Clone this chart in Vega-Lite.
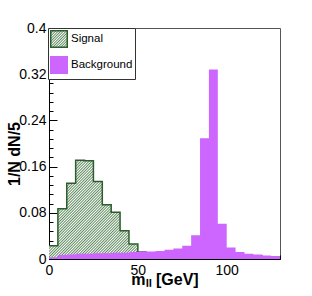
{
  "$schema": "https://vega.github.io/schema/vega-lite/v6.json",
  "width": 231,
  "height": 231,
  "autosize": {"type": "none"},
  "padding": {"left": 49, "top": 28, "right": 32, "bottom": 37},
  "background": "white",
  "config": {
    "view": {"stroke": "#555555", "strokeWidth": 1},
    "font": "Liberation Sans"
  },
  "datasets": {
    "sig": [
      {"m": 0, "v": 0.023},
      {"m": 5, "v": 0.087},
      {"m": 10, "v": 0.131},
      {"m": 15, "v": 0.171},
      {"m": 20, "v": 0.170},
      {"m": 25, "v": 0.134},
      {"m": 30, "v": 0.094},
      {"m": 35, "v": 0.081},
      {"m": 40, "v": 0.049},
      {"m": 45, "v": 0.026},
      {"m": 50, "v": 0.012},
      {"m": 55, "v": 0.012}
    ],
    "bkg": [
      {"m": 0, "v": 0.003},
      {"m": 5, "v": 0.007},
      {"m": 10, "v": 0.008},
      {"m": 15, "v": 0.009},
      {"m": 20, "v": 0.009},
      {"m": 25, "v": 0.010},
      {"m": 30, "v": 0.010},
      {"m": 35, "v": 0.011},
      {"m": 40, "v": 0.011},
      {"m": 45, "v": 0.012},
      {"m": 50, "v": 0.013},
      {"m": 55, "v": 0.013},
      {"m": 60, "v": 0.014},
      {"m": 65, "v": 0.016},
      {"m": 70, "v": 0.018},
      {"m": 75, "v": 0.023},
      {"m": 80, "v": 0.041},
      {"m": 85, "v": 0.209},
      {"m": 90, "v": 0.328},
      {"m": 95, "v": 0.061},
      {"m": 100, "v": 0.020},
      {"m": 105, "v": 0.012},
      {"m": 110, "v": 0.009},
      {"m": 115, "v": 0.008},
      {"m": 120, "v": 0.006},
      {"m": 125, "v": 0.005},
      {"m": 130, "v": 0.005}
    ]
  },
  "encoding": {
    "x": {
      "field": "m",
      "type": "quantitative",
      "scale": {"domain": [0, 130], "nice": false, "zero": false},
      "axis": {
        "title": "mₗₗ [GeV]",
        "values": [0, 10, 20, 30, 40, 50, 60, 70, 80, 90, 100, 110, 120, 130],
        "labelExpr": "datum.value % 50 === 0 ? datum.label : ''",
        "labelFlush": false,
        "labelOverlap": false,
        "tickSize": {"condition": {"test": "datum.value % 50 === 0", "value": -8}, "value": -4},
        "grid": false,
        "domainColor": "black",
        "tickColor": "black",
        "labelFontSize": 14,
        "labelColor": "black",
        "labelPadding": 12.5,
        "titleFontSize": 16,
        "titleFontWeight": "bold",
        "titleColor": "black",
        "titleBaseline": "alphabetic",
        "titleY": 25
      }
    },
    "y": {
      "field": "v",
      "type": "quantitative",
      "scale": {"domain": [0, 0.4], "nice": false},
      "axis": {
        "title": "1/N dN/5",
        "values": [0, 0.016, 0.032, 0.048, 0.064, 0.08, 0.096, 0.112, 0.128, 0.144, 0.16, 0.176, 0.192, 0.208, 0.224, 0.24, 0.256, 0.272, 0.288, 0.304, 0.32, 0.336, 0.352, 0.368, 0.384, 0.4],
        "labelExpr": "round(datum.value*1000) % 80 === 0 ? format(datum.value, '~g') : ''",
        "labelFlush": false,
        "labelOverlap": false,
        "tickSize": {"condition": {"test": "round(datum.value*1000) % 80 === 0", "value": -8}, "value": -4},
        "grid": false,
        "domainColor": "black",
        "tickColor": "black",
        "labelFontSize": 14,
        "labelColor": "black",
        "labelPadding": 11,
        "titleFontSize": 16,
        "titleFontWeight": "bold",
        "titleColor": "black",
        "titleAngle": -90,
        "titleAlign": "center",
        "titleBaseline": "alphabetic",
        "titleX": -30,
        "titleY": 125.5
      }
    }
  },
  "layer": [
    {
      "data": {"name": "sig"},
      "mark": {
        "type": "area",
        "interpolate": "step-after",
        "fill": {
          "gradient": "linear", "x1": 0, "y1": 0, "x2": 1, "y2": 1,
          "stops": [
            {"offset": 0, "color": "#5f8a5f"}, {"offset": 0.007, "color": "#ffffff"},
            {"offset": 0.014, "color": "#5f8a5f"}, {"offset": 0.021, "color": "#ffffff"},
            {"offset": 0.028, "color": "#5f8a5f"}, {"offset": 0.035, "color": "#ffffff"},
            {"offset": 0.042, "color": "#5f8a5f"}, {"offset": 0.049, "color": "#ffffff"},
            {"offset": 0.056, "color": "#5f8a5f"}, {"offset": 0.063, "color": "#ffffff"},
            {"offset": 0.07, "color": "#5f8a5f"}, {"offset": 0.077, "color": "#ffffff"},
            {"offset": 0.084, "color": "#5f8a5f"}, {"offset": 0.091, "color": "#ffffff"},
            {"offset": 0.098, "color": "#5f8a5f"}, {"offset": 0.105, "color": "#ffffff"},
            {"offset": 0.112, "color": "#5f8a5f"}, {"offset": 0.119, "color": "#ffffff"},
            {"offset": 0.126, "color": "#5f8a5f"}, {"offset": 0.133, "color": "#ffffff"},
            {"offset": 0.14, "color": "#5f8a5f"}, {"offset": 0.147, "color": "#ffffff"},
            {"offset": 0.154, "color": "#5f8a5f"}, {"offset": 0.161, "color": "#ffffff"},
            {"offset": 0.168, "color": "#5f8a5f"}, {"offset": 0.175, "color": "#ffffff"},
            {"offset": 0.182, "color": "#5f8a5f"}, {"offset": 0.189, "color": "#ffffff"},
            {"offset": 0.196, "color": "#5f8a5f"}, {"offset": 0.203, "color": "#ffffff"},
            {"offset": 0.21, "color": "#5f8a5f"}, {"offset": 0.217, "color": "#ffffff"},
            {"offset": 0.224, "color": "#5f8a5f"}, {"offset": 0.231, "color": "#ffffff"},
            {"offset": 0.238, "color": "#5f8a5f"}, {"offset": 0.245, "color": "#ffffff"},
            {"offset": 0.252, "color": "#5f8a5f"}, {"offset": 0.259, "color": "#ffffff"},
            {"offset": 0.266, "color": "#5f8a5f"}, {"offset": 0.273, "color": "#ffffff"},
            {"offset": 0.28, "color": "#5f8a5f"}, {"offset": 0.287, "color": "#ffffff"},
            {"offset": 0.294, "color": "#5f8a5f"}, {"offset": 0.301, "color": "#ffffff"},
            {"offset": 0.308, "color": "#5f8a5f"}, {"offset": 0.315, "color": "#ffffff"},
            {"offset": 0.322, "color": "#5f8a5f"}, {"offset": 0.329, "color": "#ffffff"},
            {"offset": 0.336, "color": "#5f8a5f"}, {"offset": 0.343, "color": "#ffffff"},
            {"offset": 0.35, "color": "#5f8a5f"}, {"offset": 0.357, "color": "#ffffff"},
            {"offset": 0.364, "color": "#5f8a5f"}, {"offset": 0.371, "color": "#ffffff"},
            {"offset": 0.378, "color": "#5f8a5f"}, {"offset": 0.385, "color": "#ffffff"},
            {"offset": 0.392, "color": "#5f8a5f"}, {"offset": 0.399, "color": "#ffffff"},
            {"offset": 0.406, "color": "#5f8a5f"}, {"offset": 0.413, "color": "#ffffff"},
            {"offset": 0.42, "color": "#5f8a5f"}, {"offset": 0.427, "color": "#ffffff"},
            {"offset": 0.434, "color": "#5f8a5f"}, {"offset": 0.441, "color": "#ffffff"},
            {"offset": 0.448, "color": "#5f8a5f"}, {"offset": 0.455, "color": "#ffffff"},
            {"offset": 0.462, "color": "#5f8a5f"}, {"offset": 0.469, "color": "#ffffff"},
            {"offset": 0.476, "color": "#5f8a5f"}, {"offset": 0.483, "color": "#ffffff"},
            {"offset": 0.49, "color": "#5f8a5f"}, {"offset": 0.497, "color": "#ffffff"},
            {"offset": 0.504, "color": "#5f8a5f"}, {"offset": 0.511, "color": "#ffffff"},
            {"offset": 0.518, "color": "#5f8a5f"}, {"offset": 0.525, "color": "#ffffff"},
            {"offset": 0.532, "color": "#5f8a5f"}, {"offset": 0.539, "color": "#ffffff"},
            {"offset": 0.546, "color": "#5f8a5f"}, {"offset": 0.553, "color": "#ffffff"},
            {"offset": 0.56, "color": "#5f8a5f"}, {"offset": 0.567, "color": "#ffffff"},
            {"offset": 0.574, "color": "#5f8a5f"}, {"offset": 0.581, "color": "#ffffff"},
            {"offset": 0.588, "color": "#5f8a5f"}, {"offset": 0.595, "color": "#ffffff"},
            {"offset": 0.602, "color": "#5f8a5f"}, {"offset": 0.609, "color": "#ffffff"},
            {"offset": 0.616, "color": "#5f8a5f"}, {"offset": 0.623, "color": "#ffffff"},
            {"offset": 0.63, "color": "#5f8a5f"}, {"offset": 0.637, "color": "#ffffff"},
            {"offset": 0.644, "color": "#5f8a5f"}, {"offset": 0.651, "color": "#ffffff"},
            {"offset": 0.658, "color": "#5f8a5f"}, {"offset": 0.665, "color": "#ffffff"},
            {"offset": 0.672, "color": "#5f8a5f"}, {"offset": 0.679, "color": "#ffffff"},
            {"offset": 0.686, "color": "#5f8a5f"}, {"offset": 0.693, "color": "#ffffff"},
            {"offset": 0.7, "color": "#5f8a5f"}, {"offset": 0.707, "color": "#ffffff"},
            {"offset": 0.714, "color": "#5f8a5f"}, {"offset": 0.721, "color": "#ffffff"},
            {"offset": 0.728, "color": "#5f8a5f"}, {"offset": 0.735, "color": "#ffffff"},
            {"offset": 0.742, "color": "#5f8a5f"}, {"offset": 0.749, "color": "#ffffff"},
            {"offset": 0.756, "color": "#5f8a5f"}, {"offset": 0.763, "color": "#ffffff"},
            {"offset": 0.77, "color": "#5f8a5f"}, {"offset": 0.777, "color": "#ffffff"},
            {"offset": 0.784, "color": "#5f8a5f"}, {"offset": 0.791, "color": "#ffffff"},
            {"offset": 0.798, "color": "#5f8a5f"}, {"offset": 0.805, "color": "#ffffff"},
            {"offset": 0.812, "color": "#5f8a5f"}, {"offset": 0.819, "color": "#ffffff"},
            {"offset": 0.826, "color": "#5f8a5f"}, {"offset": 0.833, "color": "#ffffff"},
            {"offset": 0.84, "color": "#5f8a5f"}, {"offset": 0.847, "color": "#ffffff"},
            {"offset": 0.854, "color": "#5f8a5f"}, {"offset": 0.861, "color": "#ffffff"},
            {"offset": 0.868, "color": "#5f8a5f"}, {"offset": 0.875, "color": "#ffffff"},
            {"offset": 0.882, "color": "#5f8a5f"}, {"offset": 0.889, "color": "#ffffff"},
            {"offset": 0.896, "color": "#5f8a5f"}, {"offset": 0.903, "color": "#ffffff"},
            {"offset": 0.91, "color": "#5f8a5f"}, {"offset": 0.917, "color": "#ffffff"},
            {"offset": 0.924, "color": "#5f8a5f"}, {"offset": 0.931, "color": "#ffffff"},
            {"offset": 0.938, "color": "#5f8a5f"}, {"offset": 0.945, "color": "#ffffff"},
            {"offset": 0.952, "color": "#5f8a5f"}, {"offset": 0.959, "color": "#ffffff"},
            {"offset": 0.966, "color": "#5f8a5f"}, {"offset": 0.973, "color": "#ffffff"},
            {"offset": 0.98, "color": "#5f8a5f"}, {"offset": 0.987, "color": "#ffffff"},
            {"offset": 0.994, "color": "#5f8a5f"}, {"offset": 1, "color": "#ffffff"}
          ]
        }
      }
    },
    {
      "data": {"name": "sig"},
      "mark": {"type": "line", "interpolate": "step-after", "strokeWidth": 1.5},
      "encoding": {
        "stroke": {
          "datum": "Signal",
          "type": "nominal",
          "scale": {"domain": ["Signal", "Background"], "range": ["#2d5d2d", "#cc66ff"]},
          "legend": {
            "orient": "none",
            "legendX": -1,
            "legendY": 0,
            "title": null,
            "fillColor": "white",
            "strokeColor": "#333333",
            "padding": 2,
            "symbolType": "square",
            "symbolSize": 272,
            "symbolStrokeWidth": 1.5,
            "labelFontSize": 11.5,
            "labelColor": "black",
            "labelFont": "Liberation Sans",
            "rowPadding": 2,
            "labelOffset": 3,
            "symbolOffset": 0,
            "encode": {
              "symbols": {
                "update": {
                  "fill": [
                    {"test": "datum.label === 'Signal'", "value": {
                      "gradient": "linear", "x1": 0, "y1": 0, "x2": 1, "y2": 1,
                      "stops": [
                        {"offset": 0, "color": "#5f8a5f"}, {"offset": 0.04, "color": "#ffffff"},
                        {"offset": 0.08, "color": "#5f8a5f"}, {"offset": 0.12, "color": "#ffffff"},
                        {"offset": 0.16, "color": "#5f8a5f"}, {"offset": 0.2, "color": "#ffffff"},
                        {"offset": 0.24, "color": "#5f8a5f"}, {"offset": 0.28, "color": "#ffffff"},
                        {"offset": 0.32, "color": "#5f8a5f"}, {"offset": 0.36, "color": "#ffffff"},
                        {"offset": 0.4, "color": "#5f8a5f"}, {"offset": 0.44, "color": "#ffffff"},
                        {"offset": 0.48, "color": "#5f8a5f"}, {"offset": 0.52, "color": "#ffffff"},
                        {"offset": 0.56, "color": "#5f8a5f"}, {"offset": 0.6, "color": "#ffffff"},
                        {"offset": 0.64, "color": "#5f8a5f"}, {"offset": 0.68, "color": "#ffffff"},
                        {"offset": 0.72, "color": "#5f8a5f"}, {"offset": 0.76, "color": "#ffffff"},
                        {"offset": 0.8, "color": "#5f8a5f"}, {"offset": 0.84, "color": "#ffffff"},
                        {"offset": 0.88, "color": "#5f8a5f"}, {"offset": 0.92, "color": "#ffffff"},
                        {"offset": 0.96, "color": "#5f8a5f"}, {"offset": 1, "color": "#ffffff"}
                      ]
                    }},
                    {"value": "#cc66ff"}
                  ],
                  "opacity": {"value": 1}
                }
              }
            }
          }
        }
      }
    },
    {
      "data": {"name": "bkg"},
      "mark": {"type": "area", "interpolate": "step-after", "fill": "#cc66ff", "opacity": 1}
    }
  ]
}
